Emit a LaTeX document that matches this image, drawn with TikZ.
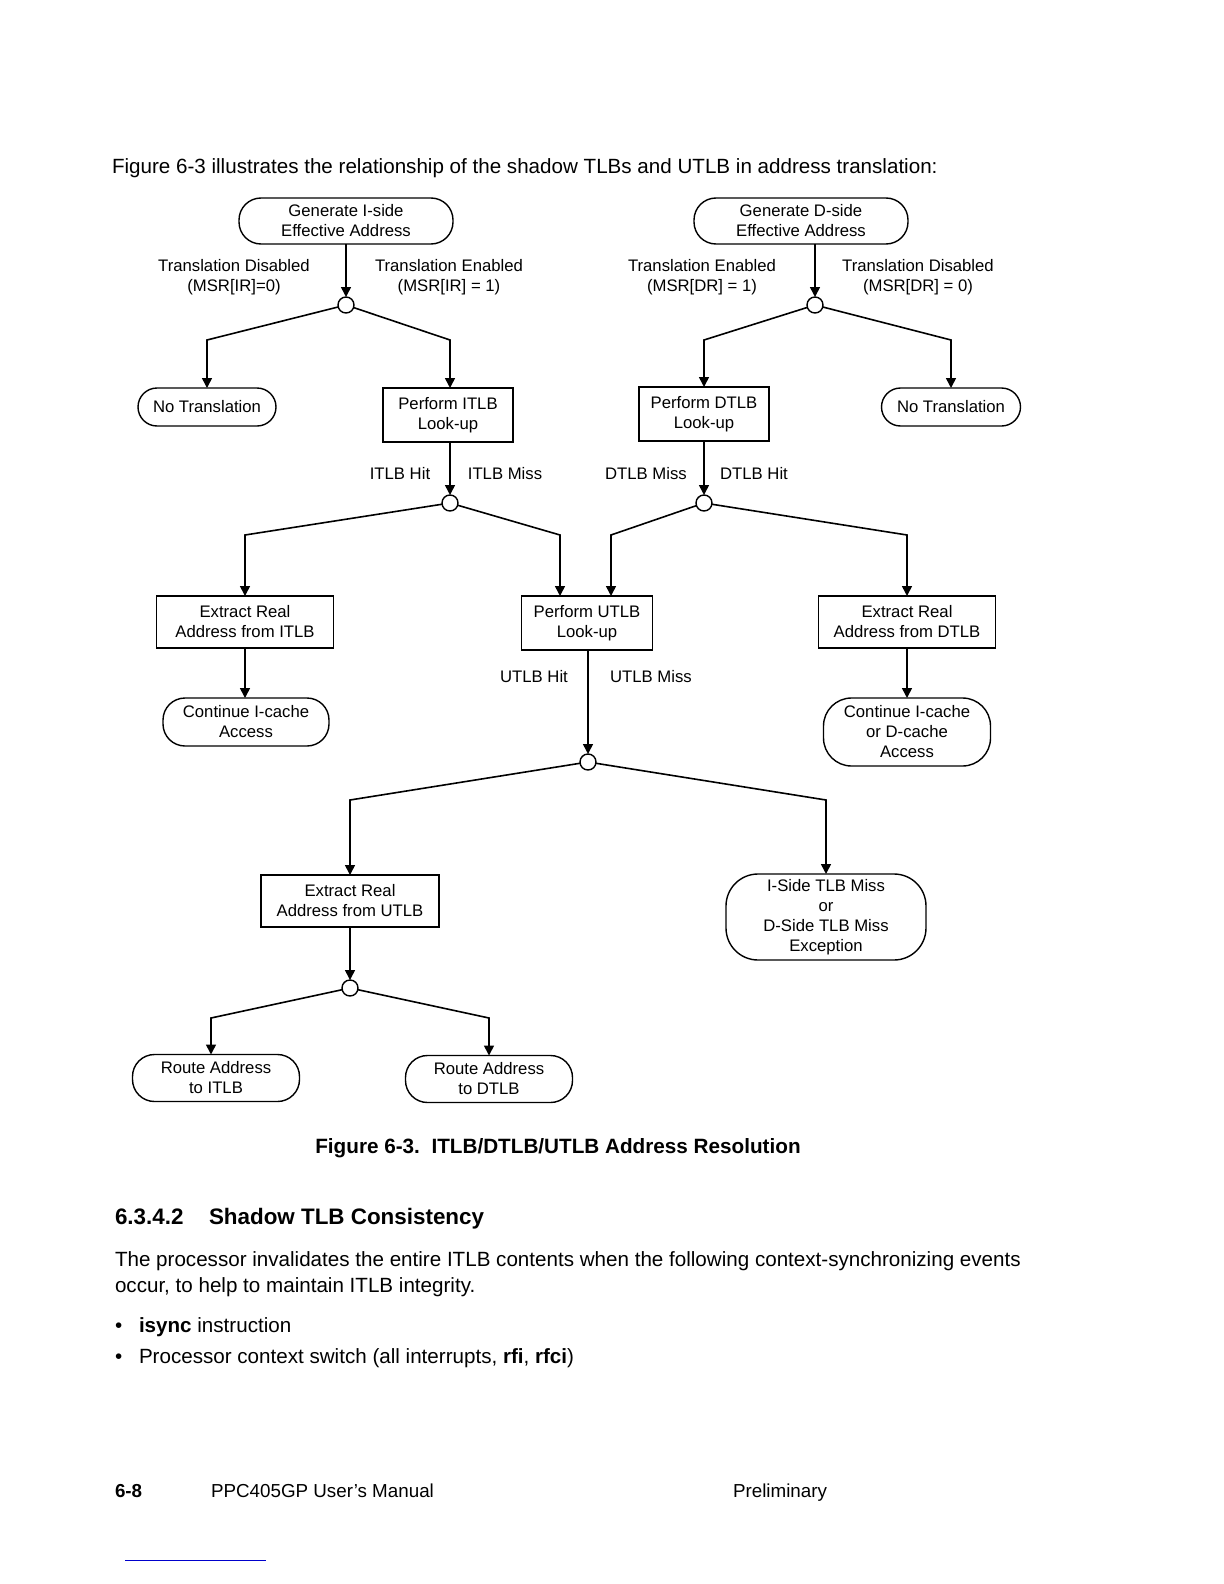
\documentclass[tikz,border=0pt]{standalone}
\usepackage{fontspec}
\setmainfont{Liberation Sans}
\usetikzlibrary{arrows.meta,calc}
\begin{document}
\begin{tikzpicture}[x=0.5pt,y=-0.5pt,
  every node/.style={inner sep=0pt,outer sep=0pt},
  dtext/.style={font=\fontsize{8.35}{10}\selectfont,align=center},
  pill/.style={dtext,draw,line width=0.7pt,rounded corners=#1},
  pill/.default=11pt,
  boxnode/.style={dtext,draw,line width=0.7pt},
  junc/.style={draw,circle,line width=0.7pt,minimum size=8pt,fill=white},
  lab/.style={dtext},
  arr/.style={-{Triangle[length=5pt,width=5pt]},line width=0.8pt},
  body/.style={anchor=base west,font=\fontsize{10.3}{13}\selectfont},
  foot/.style={anchor=base west,font=\fontsize{9.4}{12}\selectfont},
]
\useasboundingbox (0,0) rectangle (1224,1584);
\fill[white] (0,0) rectangle (1224,1584);

% intro text
\node[body] (intro) at (112,173) {Figure 6-3 illustrates the relationship of the shadow TLBs and UTLB in address translation:};

% top nodes
\node[pill,minimum width=107pt,minimum height=23pt] (gi) at (346,221) {Generate I-side\\Effective Address};
\node[pill,minimum width=107pt,minimum height=23pt] (gd) at (801,221) {Generate D-side\\Effective Address};

\node[junc] (c1) at (346,305) {};
\node[junc] (c2) at (815,305) {};

\node[lab] (l1) at (234,277) {Translation Disabled\\(MSR[IR]=0)};
\node[lab] (l2) at (449,277) {Translation Enabled\\(MSR[IR] = 1)};
\node[lab] (l3) at (702,277) {Translation Enabled\\(MSR[DR] = 1)};
\node[lab] (l4) at (918,277) {Translation Disabled\\(MSR[DR] = 0)};

\node[pill=9.5pt,minimum width=69pt,minimum height=19pt] (nt1) at (207,407) {No Translation};
\node[boxnode,minimum width=65pt,minimum height=27pt] (pi) at (448,415) {Perform ITLB\\Look-up};
\node[boxnode,minimum width=65pt,minimum height=27pt] (pd) at (704,414) {Perform DTLB\\Look-up};
\node[pill=9.5pt,minimum width=69.5pt,minimum height=19pt] (nt2) at (951,407) {No Translation};

\coordinate (r1) at (0,340);
\draw[arr] (gi.south) -- (c1.north);
\draw[arr] (c2.north |- gd.south) -- (c2.north);
\draw[arr] (c1) -- (nt1.north |- r1) -- (nt1.north);
\draw[arr] (c1) -- ([xshift=1pt]pi.north |- r1) -- ([xshift=1pt]pi.north);
\draw[arr] (c2) -- (pd.north |- r1) -- (pd.north);
\draw[arr] (c2) -- (nt2.north |- r1) -- (nt2.north);

% second level
\node[junc] (c3) at (450,503) {};
\node[junc] (c4) at (704,503) {};
\node[lab] (l5) at (400,474) {ITLB Hit};
\node[lab] (l6) at (505,474) {ITLB Miss};
\node[lab] (l7) at (646,474) {DTLB Miss};
\node[lab] (l8) at (754,474) {DTLB Hit};

\draw[arr] (c3.north |- pi.south) -- (c3.north);
\draw[arr] (pd.south) -- (c4.north);

\node[boxnode,minimum width=88.5pt,minimum height=26pt] (ei) at (245,622) {Extract Real\\Address from ITLB};
\node[boxnode,minimum width=65.5pt,minimum height=27pt] (pu) at (587,623) {Perform UTLB\\Look-up};
\node[boxnode,minimum width=88.5pt,minimum height=26pt] (ed) at (907,622) {Extract Real\\Address from DTLB};

\coordinate (r3) at (0,535);
\draw[arr] (c3) -- (ei.north |- r3) -- (ei.north);
\draw[arr] (c3) -- ([xshift=-13.5pt]pu.north |- r3) -- ([xshift=-13.5pt]pu.north);
\draw[arr] (c4) -- ([xshift=12pt]pu.north |- r3) -- ([xshift=12pt]pu.north);
\draw[arr] (c4) -- (ed.north |- r3) -- (ed.north);

\node[pill=11pt,minimum width=83pt,minimum height=24pt] (ci) at (246,722) {Continue I-cache\\Access};
\node[pill=14pt,minimum width=83.5pt,minimum height=34pt] (cd) at (907,732) {Continue I-cache\\or D-cache\\Access};
\draw[arr] (ei.south) -- (ei.south |- ci.north);
\draw[arr] (ed.south) -- (ed.south |- cd.north);

% UTLB
\node[junc] (c5) at (588,762) {};
\node[lab] (l9) at (534,677) {UTLB Hit};
\node[lab] (l10) at (651,677) {UTLB Miss};
\draw[arr] (c5.north |- pu.south) -- (c5.north);

\node[boxnode,minimum width=89pt,minimum height=26pt] (eu) at (350,901) {Extract Real\\Address from UTLB};
\node[pill=16pt,minimum width=100pt,minimum height=43pt] (ex) at (826,917) {I-Side TLB Miss\\or\\D-Side TLB Miss\\Exception};

\coordinate (r5) at (0,800);
\draw[arr] (c5) -- (eu.north |- r5) -- (eu.north);
\draw[arr] (c5) -- (ex.north |- r5) -- (ex.north);

\node[junc] (c6) at (350,988) {};
\draw[arr] (eu.south) -- (c6.north);

\node[pill=11pt,minimum width=83.5pt,minimum height=23.5pt] (ri) at (216,1078) {Route Address\\to ITLB};
\node[pill=11pt,minimum width=83.5pt,minimum height=23.5pt] (rd) at (489,1079) {Route Address\\to DTLB};
\coordinate (r6) at (0,1018);
\draw[arr] (c6) -- ([xshift=-2.5pt]ri.north |- r6) -- ([xshift=-2.5pt]ri.north);
\draw[arr] (c6) -- (rd.north |- r6) -- (rd.north);

% caption and text
\node[anchor=base,font=\fontsize{10.35}{13}\selectfont\bfseries] (cap) at (558,1153) {Figure 6-3.\ \ ITLB/DTLB/UTLB Address Resolution};
\node[body,font=\fontsize{11.2}{14}\selectfont\bfseries] (h1) at (115,1224) {6.3.4.2};
\node[body,font=\fontsize{11.2}{14}\selectfont\bfseries] (h2) at (209,1224) {Shadow TLB Consistency};
\node[body] (p1) at (115,1266) {The processor invalidates the entire ITLB contents when the following context-synchronizing events};
\node[body] (p2) at (115,1292) {occur, to help to maintain ITLB integrity.};
\node[body] (b1) at (115,1332) {\textbullet};
\node[body] (t1) at (139,1332) {\textbf{isync} instruction};
\node[body] (b2) at (115,1363) {\textbullet};
\node[body] (t2) at (139,1363) {Processor context switch (all interrupts, \textbf{rfi}, \textbf{rfci})};

% footer
\node[foot,font=\fontsize{9.4}{12}\selectfont\bfseries] (f1) at (115,1497) {6-8};
\node[foot] (f2) at (211,1497) {PPC405GP User’s Manual};
\node[foot] (f3) at (733,1497) {Preliminary};
\draw[blue!80!black,line width=0.5pt] (125,1560) -- (266,1560);
\end{tikzpicture}
\end{document}
